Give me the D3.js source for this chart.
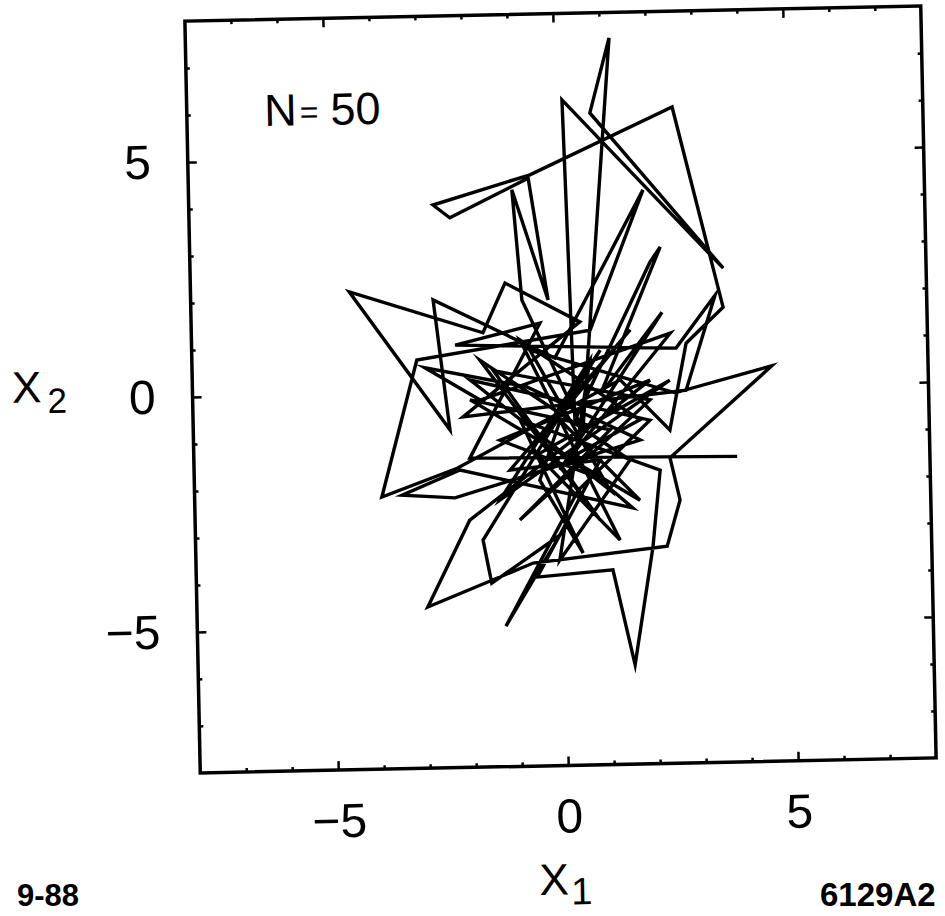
<!DOCTYPE html>
<html>
<head>
<meta charset="utf-8">
<script src="https://cdn.jsdelivr.net/npm/d3@7"></script>
<style>
  html, body { margin: 0; padding: 0; background: #fff; }
  svg { display: block; }
</style>
</head>
<body>
<script>
// ---- data ----
const x1 = [3.81,-2.00,-0.42,-2.27,2.53,3.40,2.73,-2.13,0.45,-1.16,
            -1.66,-4.55,-2.42,-2.73,-0.11,1.88,0.67,-3.11,-3.93,-2.28,
            1.30,2.36,2.75,3.57,2.55,-0.57,-2.69,-2.33,-0.61,-0.23,
            -0.97,-0.80,0.47,1.21,0.76,3.59,0.16,0.30,2.00,2.23,
            0.86,2.24,-0.05,2.41,-1.75,-2.94,-0.73,1.71,-2.34,-3.49,
            -2.22,1.52,0.75,-1.34,1.95,-2.03,-2.98,-0.67,2.25,2.55,
            2.35,4.60,2.49,-0.65,1.03,-1.96,1.93,0.34,-1.29,-0.08,
            -1.58,-1.75,0.88,-0.47,1.54,-1.13,0.83,-0.59,1.06,1.50,
            1.94,2.13,-0.89,0.42,-0.49,-0.02,1.68,-1.97,1.06,-0.94,
            1.94,-1.45,0.80,-1.74,1.48,-0.09,0.65,-1.36,2.38,-0.54,
            1.23,-0.86,1.71,0.29];
const x2 = [-1.50,-1.42,1.42,0.99,0.83,1.94,-0.07,-0.54,1.43,2.29,
            1.24,2.17,-0.81,1.96,0.67,4.21,1.25,0.69,-2.21,-1.63,
            0.18,-0.91,0.93,1.68,5.96,4.58,3.98,3.70,4.51,1.91,
            4.27,1.92,-0.87,7.46,5.87,2.51,6.16,-0.66,2.67,2.99,
            -0.13,1.60,-1.71,1.15,-0.19,0.52,0.07,-1.11,-2.26,-2.18,
            -1.67,-2.55,-1.88,-1.05,0.16,-2.74,-4.57,-3.68,-3.38,-2.40,
            -1.50,0.41,-0.12,0.85,-2.16,0.24,-0.69,-2.15,-5.01,-3.10,
            -4.09,-3.17,0.82,-1.07,1.24,-1.69,-1.52,-3.98,-3.86,-5.89,
            -3.39,-1.76,-0.63,-3.49,-1.92,-0.65,-2.39,-0.18,-0.88,-2.76,
            -0.26,0.43,-2.79,0.66,-1.53,-3.63,0.61,-2.32,0.15,-1.38,
            -3.23,1.07,-0.68,-1.40];
const domainX = [-8, 8];
const domainY = [-8, 8];
const majorTicks = [-5, 0, 5];
const minorTicks = [-7,-6,-4,-3,-2,-1,1,2,3,4,6,7];
const annotation = ["N", "=", "50"];
const xTitle = ["X", "1"];
const yTitle = ["X", "2"];
const footLeft = "9-88";
const footRight = "6129A2";

// ---- layout ----
const W = 945, H = 916;
const m = { left: 192.5, top: 13.5, w: 736, h: 752 };
const cx = m.left + m.w / 2, cy = m.top + m.h / 2;
const angle = -1.17;
const FONT = "'Liberation Sans', Arial, Helvetica, sans-serif";

const svg = d3.select("body").append("svg")
  .attr("width", W).attr("height", H)
  .attr("viewBox", `0 0 ${W} ${H}`);
svg.append("rect").attr("width", W).attr("height", H).attr("fill", "#fff");

const g = svg.append("g").attr("transform", `rotate(${angle},${cx},${cy})`);

const x = d3.scaleLinear().domain(domainX).range([m.left, m.left + m.w]);
const y = d3.scaleLinear().domain(domainY).range([m.top + m.h, m.top]);

function styleAxis(sel) {
  sel.select(".domain").remove();
  sel.selectAll(".tick line").attr("stroke", "#000").attr("stroke-width", 2.5);
  sel.selectAll(".tick text")
    .attr("fill", "#000")
    .style("font-family", FONT)
    .style("font-size", "48px");
}

const bottom = m.top + m.h, right = m.left + m.w;
// major ticks + labels
g.append("g").attr("transform", `translate(0,${bottom})`)
  .call(d3.axisBottom(x).tickValues(majorTicks).tickSize(-9).tickPadding(33).tickFormat(d3.format("d")))
  .call(styleAxis);
g.append("g").attr("transform", `translate(${m.left},0)`)
  .call(d3.axisLeft(y).tickValues(majorTicks).tickSize(-9).tickPadding(37).tickFormat(d3.format("d")))
  .call(styleAxis);
g.append("g").attr("transform", `translate(0,${m.top})`)
  .call(d3.axisTop(x).tickValues(majorTicks).tickSize(-9).tickFormat(""))
  .call(styleAxis);
g.append("g").attr("transform", `translate(${right},0)`)
  .call(d3.axisRight(y).tickValues(majorTicks).tickSize(-9).tickFormat(""))
  .call(styleAxis);
// minor ticks
g.append("g").attr("transform", `translate(0,${bottom})`)
  .call(d3.axisBottom(x).tickValues(minorTicks).tickSize(-4).tickFormat("")).call(styleAxis);
g.append("g").attr("transform", `translate(0,${m.top})`)
  .call(d3.axisTop(x).tickValues(minorTicks).tickSize(-4).tickFormat("")).call(styleAxis);
g.append("g").attr("transform", `translate(${m.left},0)`)
  .call(d3.axisLeft(y).tickValues(minorTicks).tickSize(-4).tickFormat("")).call(styleAxis);
g.append("g").attr("transform", `translate(${right},0)`)
  .call(d3.axisRight(y).tickValues(minorTicks).tickSize(-4).tickFormat("")).call(styleAxis);

// frame
g.append("rect")
  .attr("x", m.left).attr("y", m.top).attr("width", m.w).attr("height", m.h)
  .attr("fill", "none").attr("stroke", "#000").attr("stroke-width", 3.5);

// trajectory
const pts = x1.map((v, i) => [v, x2[i]]);
const line = d3.line().x(d => x(d[0])).y(d => y(d[1]));
g.append("path")
  .attr("d", line(pts))
  .attr("fill", "none")
  .attr("stroke", "#000")
  .attr("stroke-width", 3.4)
  .attr("stroke-linejoin", "miter")
  .attr("stroke-miterlimit", 6);

// annotation N = 50
const ann = g.append("text")
  .attr("x", 270).attr("y", 120)
  .style("font-family", FONT).style("font-size", "45px").attr("fill", "#000");
ann.append("tspan").text(annotation[0]);
ann.append("tspan").attr("dx", 3).attr("dy", -2).style("font-size", "32px").text(annotation[1]);
ann.append("tspan").attr("dx", 12).attr("dy", 2).text(annotation[2]);

// axis titles
const xt = g.append("text")
  .attr("x", x(0) - 31).attr("y", bottom + 129)
  .style("font-family", FONT).style("font-size", "44px").attr("fill", "#000");
xt.append("tspan").text(xTitle[0]);
xt.append("tspan").attr("dx", 2).attr("dy", 10).style("font-size", "38px").text(xTitle[1]);

const yt = g.append("text")
  .attr("x", 12).attr("y", y(0) + 2)
  .style("font-family", FONT).style("font-size", "44px").attr("fill", "#000");
yt.append("tspan").text(yTitle[0]);
yt.append("tspan").attr("dx", 6).attr("dy", 11).style("font-size", "35px").text(yTitle[1]);

// footer marks
svg.append("text").attr("x", 17).attr("y", 906)
  .style("font-family", FONT).style("font-weight", "bold").style("font-size", "31px")
  .attr("fill", "#000").text(footLeft);
svg.append("text").attr("x", 820).attr("y", 906)
  .style("font-family", FONT).style("font-weight", "bold").style("font-size", "33px")
  .attr("fill", "#000").text(footRight);
</script>
</body>
</html>
